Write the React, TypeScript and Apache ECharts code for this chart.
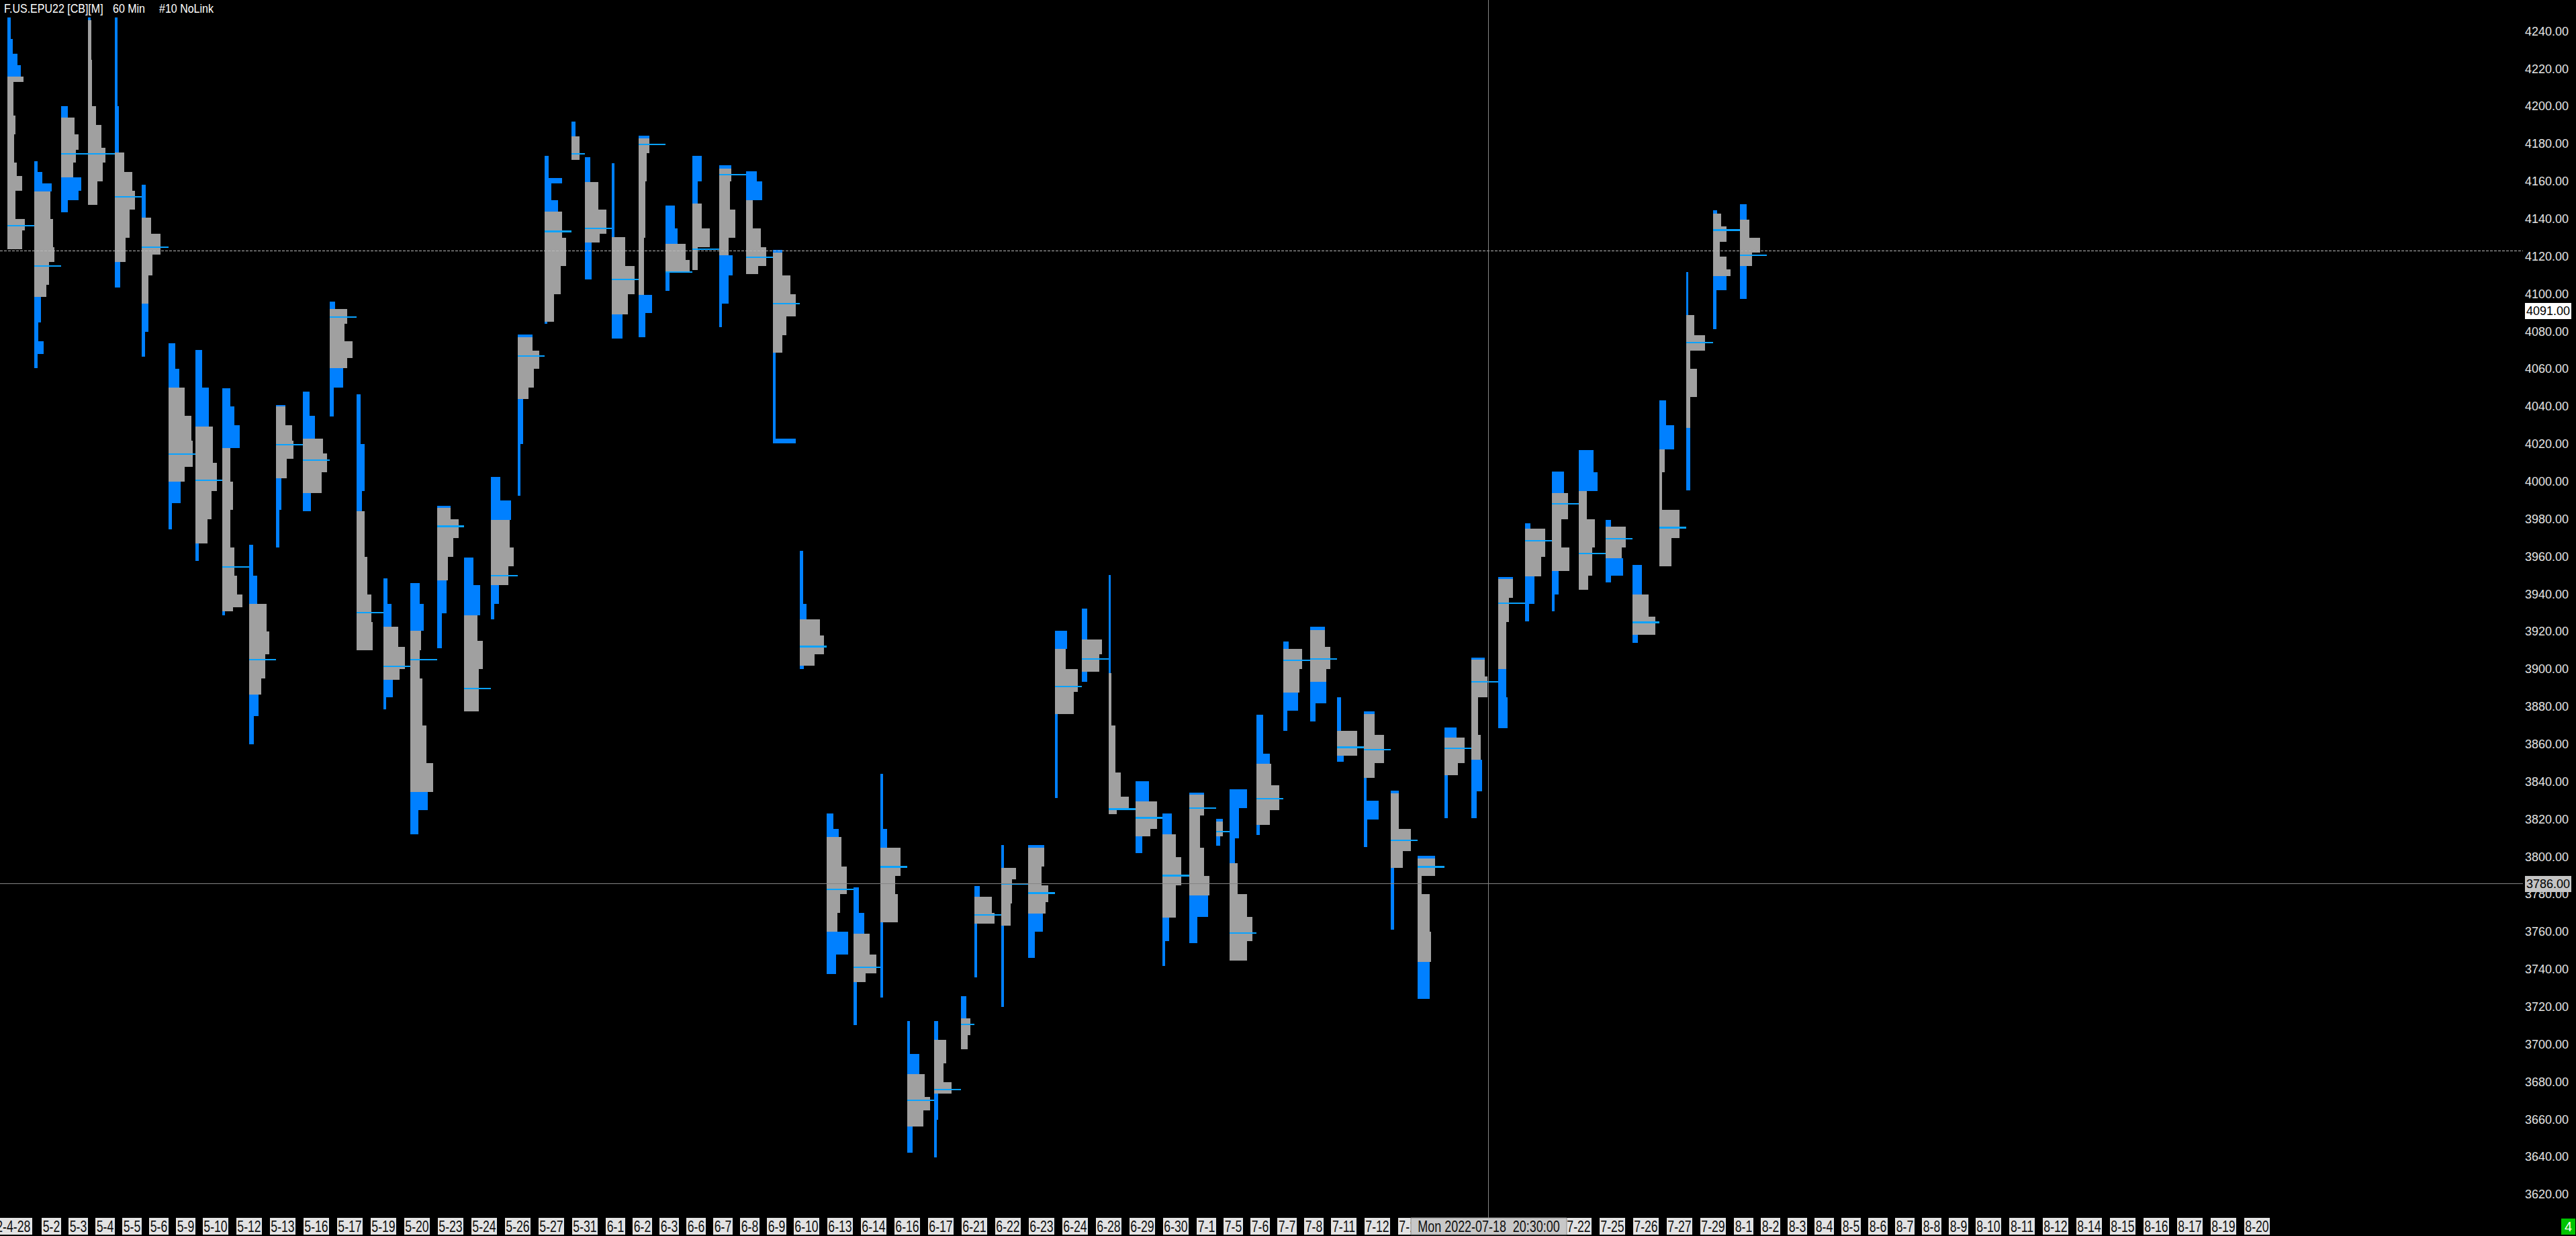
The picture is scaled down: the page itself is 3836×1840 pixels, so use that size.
import React, { useEffect, useRef } from "react";
import * as echarts from "echarts";

const CHART_W = 3836;
const CHART_H = 1840;

const titleParts = ["F.US.EPU22 [CB][M]", "60 Min", "#10 NoLink"];

const PRICE_MIN = 3600;
const PRICE_MAX = 4256.72;
const PRICE_STEP = 20;

// session left position, in session slots
const sessionSlot = [0,1,2,3,4,5,6,7,8,9,10,11,12,13,14,15,16,17,18,19,20,21,21.5,22.5,23.5,24.5,25.5,26.5,27.5,28.5,29.5,30.5,31.5,32.5,33.5,34.5,35.5,36,37,38,39,40,41,42,43,44,45,45.5,46.5,47.5,48.5,49.5,50.5,51.5,52.5,53.5,54.5,55.5,56.5,57.5,58.5,59.5,60.5,61.5,62.5,63.5,64.5];

const sessionPoc = [4136.5,4115,4174.6,4174.6,4151.7,4125,4014.8,4000.8,3954.6,3905.1,4019.7,4011.5,4087.8,3930.2,3901.6,3905.1,3976.2,3889.7,3949.9,4067,4133.4,4174.6,4135.1,4107.7,4179.7,4111.8,4123.8,4163.7,4119.7,4094.8,3912.1,3782.6,3741.2,3794.7,3670.3,3675.9,3710.8,3769,3785.5,3780.7,3890.7,3905.5,3825.5,3820.8,3790,3826,3813.4,3759.5,3831.1,3904.7,3905.5,3858.4,3857.2,3808.9,3794.7,3857.8,3893.4,3935.3,3968.5,3988.1,3961.8,3969.6,3925,3975.5,4074.1,4134.1,4120.6];

const sessionVaHigh = [4216,4154.6,4194,4246,4175.6,4140.6,4050.2,4029.2,4017.9,3934.9,4040,4023,4092,3984.4,3922.6,3920.5,3986,3928.8,3979.7,4077,4144.1,4184,4159.8,4130.4,4183,4126.9,4148.2,4167,4149.9,4122,3926.7,3810.5,3759.1,3804.8,3684.1,3702.6,3714,3778.7,3794.1,3805,3910.7,3915.8,3898,3829.5,3812,3833,3819,3796.6,3849.6,3911,3921,3867.1,3876,3834,3799,3863.6,3905,3948,3975,3994,3995,3976,3940,4017.3,4088.9,4143,4139.7];

const sessionVaLow = [4124,4098.5,4162.2,4147.4,4117,4095,4000,3966.9,3931,3886.6,4001.9,3994,4060.4,3910.3,3894.4,3834.6,3947.4,3877.4,3945,4044,4085.1,4171.5,4127.3,4089.2,4099.5,4111.4,4112.9,4120.7,4110.8,4068.7,3902,3760.2,3733.4,3765.3,3656.3,3673.8,3697.5,3764.3,3763.3,3769.8,3876.3,3898.5,3822.9,3811,3767.8,3779.3,3811,3744.7,3817.1,3887.6,3893.4,3854.1,3842,3794.1,3744.1,3843.4,3851.7,3900,3949.4,3952.5,3942.2,3959.3,3918.5,3955,4028.6,4109.4,4115];

// volume profile of each session: [price top, price bottom, volume]
const sessionProfile = [
  [[4247.5,4236,5],[4236,4228,8],[4228,4222,15],[4222,4216,20],[4216,4213,24],[4213,4195,9],[4195,4185,12],[4185,4170,10],[4170,4163,14],[4163,4155,22],[4155,4140,12],[4140,4134,26],[4134,4124,22]],
  [[4170.9,4165,5],[4165,4159,12],[4159,4154.6,26],[4154.6,4140,24],[4140,4125,28],[4125,4117,30],[4117,4105,22],[4105,4098.5,18],[4098.5,4085,10],[4085,4075,6],[4075,4068,14],[4068,4060.5,5]],
  [[4200.3,4194,10],[4194,4185,20],[4185,4177,26],[4177,4170,22],[4170,4162.2,18],[4162.2,4155,30],[4155,4150,26],[4150,4143.7,10]],
  [[4247.5,4246,4],[4246,4225,5],[4225,4200,6],[4200,4190,12],[4190,4178,20],[4178,4170,26],[4170,4160,22],[4160,4147.4,14]],
  [[4247.5,4200,4],[4200,4175.6,6],[4175.6,4165,14],[4165,4155,26],[4155,4145,30],[4145,4130,22],[4130,4117,16],[4117,4103.6,8]],
  [[4158.1,4140.6,6],[4140.6,4132,14],[4132,4121,28],[4121,4110,16],[4110,4095,10],[4095,4080,10],[4080,4066.6,5]],
  [[4073.8,4060,10],[4060,4050.2,16],[4050.2,4035,24],[4035,4022,34],[4022,4008,36],[4008,4000,24],[4000,3988.5,18],[3988.5,3974.7,5]],
  [[4070.3,4050,10],[4050,4029.2,20],[4029.2,4010,26],[4010,3995,32],[3995,3980,24],[3980,3966.9,18],[3966.9,3957.7,5]],
  [[4049.6,4040,12],[4040,4030,18],[4030,4017.9,26],[4017.9,4000,12],[4000,3985,16],[3985,3965,12],[3965,3950,18],[3950,3940,22],[3940,3933,30],[3933,3931,16],[3931,3928.8,4]],
  [[3966.5,3950,6],[3950,3934.9,12],[3934.9,3920,26],[3920,3908,30],[3908,3895,24],[3895,3886.6,18],[3886.6,3875,14],[3875,3859.9,7]],
  [[4040.9,4030,14],[4030,4022,24],[4022,4012,26],[4012,4001.9,16],[4001.9,3985,8],[3985,3964.8,5]],
  [[4048.1,4035,10],[4035,4023,18],[4023,4015,30],[4015,4005,36],[4005,3994,28],[3994,3984.4,12]],
  [[4096,4092,8],[4092,4084,26],[4084,4075,22],[4075,4066,34],[4066,4060.4,26],[4060.4,4050,20],[4050,4034.8,6]],
  [[4046.5,4020,6],[4020,3995,12],[3995,3984.4,8],[3984.4,3960,12],[3960,3940,16],[3940,3925,22],[3925,3910.3,24]],
  [[3948.3,3935,6],[3935,3922.6,12],[3922.6,3912,22],[3912,3900,32],[3900,3894.4,24],[3894.4,3885,14],[3885,3878.8,4]],
  [[3945.8,3935,14],[3935,3920.5,20],[3920.5,3910,16],[3910,3895,14],[3895,3870,18],[3870,3850,24],[3850,3834.6,34],[3834.6,3825,26],[3825,3812.2,12]],
  [[3987,3980,20],[3980,3970,32],[3970,3960,24],[3960,3947.4,16],[3947.4,3930,14],[3930,3911.3,7]],
  [[3959.7,3945,14],[3945,3928.8,24],[3928.8,3915,20],[3915,3900,28],[3900,3877.4,22]],
  [[4002.5,3990,14],[3990,3979.7,30],[3979.7,3965,28],[3965,3955,34],[3955,3945,26],[3945,3935,12],[3935,3926.7,5]],
  [[4078.3,4070,22],[4070,4060,32],[4060,4050,24],[4050,4044,16],[4044,4020,8],[4020,3992.6,4]],
  [[4173.5,4162,6],[4162,4159,26],[4159,4150,10],[4150,4144.1,20],[4144.1,4130,26],[4130,4115,32],[4115,4100,24],[4100,4085.1,14],[4085.1,4084,4]],
  [[4192,4184,6],[4184,4171.5,12]],
  [[4172.9,4159.8,8],[4159.8,4145,20],[4145,4132,32],[4132,4127.3,22],[4127.3,4107.7,10]],
  [[4169.8,4130.4,4],[4130.4,4115,20],[4115,4100,34],[4100,4089.2,24],[4089.2,4076.3,16]],
  [[4184.4,4175,16],[4175,4160,12],[4160,4130,10],[4130,4099.5,8],[4099.5,4090,20],[4090,4076.9,10]],
  [[4147.2,4135,14],[4135,4126.9,18],[4126.9,4118,30],[4118,4111.4,36],[4111.4,4101.6,6]],
  [[4173.5,4160,14],[4160,4148.2,8],[4148.2,4135,14],[4135,4125,26],[4125,4112.9,8]],
  [[4168.8,4160,18],[4160,4145,16],[4145,4130,24],[4130,4120.7,14],[4120.7,4110,20],[4110,4095,14],[4095,4082.5,4]],
  [[4165.3,4160,16],[4160,4149.9,24],[4149.9,4135,10],[4135,4125,22],[4125,4115,30],[4115,4110.8,18]],
  [[4123.6,4110,14],[4110,4100,26],[4100,4088,34],[4088,4078,20],[4078,4068.7,14],[4068.7,4023,4],[4023,4020.4,34]],
  [[3963.2,3935,5],[3935,3926.7,10],[3926.7,3918,30],[3918,3908,36],[3908,3902,22],[3902,3900,6]],
  [[3823.3,3815,10],[3815,3810.5,18],[3810.5,3795,22],[3795,3780,30],[3780,3770,20],[3770,3760.2,16],[3760.2,3748,32],[3748,3737.5,14]],
  [[3783.8,3770,8],[3770,3759.1,16],[3759.1,3748,24],[3748,3738,34],[3738,3733.4,18],[3733.4,3710.2,5]],
  [[3844.1,3815,4],[3815,3804.8,10],[3804.8,3790,30],[3790,3780,22],[3780,3765.3,26],[3765.3,3725.2,4]],
  [[3712.5,3695,4],[3695,3684.1,18],[3684.1,3672,26],[3672,3665,34],[3665,3656.3,24],[3656.3,3642.4,8]],
  [[3712.5,3702.6,6],[3702.6,3690,18],[3690,3680,14],[3680,3673.8,26],[3673.8,3660,6],[3660,3639.9,4]],
  [[3725.6,3714,8],[3714,3705,14],[3705,3697.5,10]],
  [[3784.4,3778.7,8],[3778.7,3770,26],[3770,3764.3,30],[3764.3,3735.9,4]],
  [[3806.4,3794.1,4],[3794.1,3788,22],[3788,3775,16],[3775,3763.3,14],[3763.3,3720,4]],
  [[3806.4,3795,24],[3795,3785,20],[3785,3776,30],[3776,3769.8,26],[3769.8,3760,22],[3760,3746.2,10]],
  [[3920.5,3910.7,18],[3910.7,3900,16],[3900,3888,34],[3888,3876.3,28],[3876.3,3831.5,4]],
  [[3932.3,3915.8,8],[3915.8,3908,30],[3908,3898.5,26],[3898.5,3893.2,8]],
  [[3950.3,3898,3],[3898,3870,4],[3870,3845,10],[3845,3832,18],[3832,3826,30],[3826,3822.9,12]],
  [[3840.3,3829.5,20],[3829.5,3815,32],[3815,3811,22],[3811,3801.9,10]],
  [[3823.3,3812,14],[3812,3800,20],[3800,3785,28],[3785,3767.8,20],[3767.8,3755,10],[3755,3741.7,4]],
  [[3834.2,3822,22],[3822,3805,16],[3805,3790,22],[3790,3779.3,30],[3779.3,3768,28],[3768,3754,12]],
  [[3820.2,3811,10],[3811,3805.8,6]],
  [[3836.2,3826,26],[3826,3810,14],[3810,3796.6,8],[3796.6,3780,12],[3780,3768,26],[3768,3755,34],[3755,3744.7,26]],
  [[3875.7,3855,10],[3855,3849.6,20],[3849.6,3838,22],[3838,3825,34],[3825,3817.1,20],[3817.1,3811.6,5]],
  [[3914.8,3911,8],[3911,3900,28],[3900,3887.6,24],[3887.6,3878,22],[3878,3867.1,6]],
  [[3922.6,3912,22],[3912,3900,30],[3900,3893.4,24],[3893.4,3882,24],[3882,3872.2,8]],
  [[3885,3867.1,6],[3867.1,3854.1,30],[3854.1,3850.6,10]],
  [[3877.4,3865,16],[3865,3850,30],[3850,3842,16],[3842,3830,4],[3830,3820,22],[3820,3805.4,5]],
  [[3835.2,3815,12],[3815,3803,30],[3803,3794.1,18],[3794.1,3761.2,5]],
  [[3800.7,3790,26],[3790,3780,6],[3780,3760,18],[3760,3744.1,20],[3744.1,3724.2,18]],
  [[3869.1,3863.6,18],[3863.6,3850,30],[3850,3843.4,20],[3843.4,3820.8,5]],
  [[3906.1,3896,20],[3896,3885,24],[3885,3865,10],[3865,3851.7,14],[3851.7,3835,16],[3835,3820.8,8]],
  [[3949,3938,22],[3938,3925,16],[3925,3900,12],[3900,3885,12],[3885,3868.5,14]],
  [[3977.8,3975,8],[3975,3960,30],[3960,3949.4,24],[3949.4,3935,14],[3935,3925.7,6]],
  [[4005.5,3994,18],[3994,3980,24],[3980,3965,14],[3965,3952.5,26],[3952.5,3940,10],[3940,3930.8,4]],
  [[4016.9,4005,22],[4005,3995,28],[3995,3980,12],[3980,3965,24],[3965,3950,20],[3950,3942.2,14]],
  [[3979.7,3976,8],[3976,3965,30],[3965,3959.3,24],[3959.3,3950,26],[3950,3946.4,8]],
  [[3955.6,3940,14],[3940,3928,24],[3928,3918.5,34],[3918.5,3914,8]],
  [[4043.4,4030,10],[4030,4017.3,22],[4017.3,4005,8],[4005,3985,4],[3985,3970,30],[3970,3955,18]],
  [[4111.8,4088.9,3],[4088.9,4078,12],[4078,4070,28],[4070,4060,6],[4060,4045,16],[4045,4028.6,6],[4028.6,3995.3,6]],
  [[4144.7,4143,6],[4143,4136,12],[4136,4128,20],[4128,4120,10],[4120,4113,20],[4113,4109.4,26],[4109.4,4102,20],[4102,4081.3,5]],
  [[4148,4139.7,10],[4139.7,4130,14],[4130,4122,30],[4122,4115,18],[4115,4097.5,10]],
];

const dateLabels = ["2022-4-28","5-2","5-3","5-4","5-5","5-6","5-9","5-10","5-12","5-13","5-16","5-17","5-19","5-20","5-23","5-24","5-26","5-27","5-31","6-1","6-2","6-3","6-6","6-7","6-8","6-9","6-10","6-13","6-14","6-16","6-17","6-21","6-22","6-23","6-24","6-28","6-29","6-30","7-1","7-5","7-6","7-7","7-8","7-11","7-12","7-13","7-22","7-25","7-26","7-27","7-29","8-1","8-2","8-3","8-4","8-5","8-6","8-7","8-8","8-9","8-10","8-11","8-12","8-14","8-15","8-16","8-17","8-19","8-20"];
const dateLabelSlot = [-1.225,1.275,2.275,3.275,4.275,5.275,6.275,7.275,8.525,9.775,11.025,12.275,13.525,14.775,16.025,17.275,18.525,19.775,21.025,22.275,23.275,24.275,25.275,26.275,27.275,28.275,29.275,30.525,31.775,33.025,34.275,35.525,36.775,38.025,39.275,40.525,41.775,43.025,44.275,45.275,46.275,47.275,48.275,49.275,50.525,51.775,58.025,59.275,60.525,61.775,63.025,64.275,65.275,66.275,67.275,68.275,69.275,70.275,71.275,72.275,73.275,74.525,75.775,77.025,78.275,79.525,80.775,82.025,83.275];

const lastPrice = 4091;
const cursorPrice = 3786;
const cursorSlot = 55.125;
const cursorLabel = "Mon 2022-07-18  20:30:00";
const referencePrice = 4123;
const chartNumber = "4";

// layout / style
const GRID_LEFT = 0;
const GRID_WIDTH = 3757;
const X_MIN = -0.275;
const X_MAX = 93.65;
const GRID_TOP = 0;
const GRID_HEIGHT = 1834.2;
const VOL_PER_SLOT = 40;
const POC_HALF = 0.4;
const GRAY = "#a0a0a0";
const BLUE = "#0080ff";
const POC_COLOR = "#0aa2ff";
const FONT = '"Liberation Sans", Arial, sans-serif';
const LABEL_TOP = 1813;
const LABEL_H = 25;

export default function App() {
  const ref = useRef<HTMLDivElement>(null);

  useEffect(() => {
    const el = ref.current as HTMLDivElement;
    const chart = echarts.init(el, null, { renderer: "svg", width: CHART_W, height: CHART_H });

    const barData: number[][] = [];
    sessionProfile.forEach((segs, i) => {
      const hi = sessionVaHigh[i];
      const lo = sessionVaLow[i];
      const slot = sessionSlot[i];
      segs.forEach(([t, b, w]) => {
        const push = (tt: number, bb: number, va: number) => {
          if (tt - bb > 1e-6) barData.push([slot, tt, bb, w, va]);
        };
        push(t, Math.max(b, hi), 0);
        push(Math.min(t, hi), Math.max(b, lo), 1);
        push(Math.min(t, lo), b, 0);
      });
    });

    const pocData = sessionSlot.map((s, i) => {
      const next = i + 1 < sessionSlot.length ? sessionSlot[i + 1] : s + 1;
      const span = Math.min(1, next - s);
      return [s, sessionPoc[i], span];
    });

    const labelData = dateLabelSlot.map((s, i) => [s, i]);

    const option: any = {
      animation: false,
      backgroundColor: "#000000",
      grid: { left: GRID_LEFT, width: GRID_WIDTH, top: GRID_TOP, height: GRID_HEIGHT, containLabel: false },
      xAxis: { type: "value", min: X_MIN, max: X_MAX, show: false },
      yAxis: {
        type: "value",
        position: "right",
        min: PRICE_MIN,
        max: PRICE_MAX,
        interval: PRICE_STEP,
        axisLine: { show: false },
        axisTick: { show: false },
        splitLine: { show: false },
        axisLabel: {
          showMinLabel: false,
          showMaxLabel: false,
          formatter: (v: number) => (v % PRICE_STEP === 0 ? v.toFixed(2) : ""),
          color: "#e4e4e4",
          fontSize: 18,
          fontFamily: FONT,
          align: "right",
          margin: 68,
        },
      },
      series: [
        {
          type: "custom",
          name: "profile",
          data: barData,
          encode: { x: 0, y: 1 },
          z: 2,
          renderItem: (params: any, api: any) => {
            const s = api.value(0), t = api.value(1), b = api.value(2), w = api.value(3), va = api.value(4);
            const p1 = api.coord([s, t]);
            const p2 = api.coord([s + w / VOL_PER_SLOT, b]);
            const x = Math.round(p1[0]);
            const y = Math.round(p1[1]);
            const x2 = Math.round(p2[0]);
            const y2 = Math.round(p2[1]);
            return {
              type: "rect",
              shape: { x, y, width: Math.max(1, x2 - x), height: Math.max(1, y2 - y) },
              style: { fill: va ? GRAY : BLUE },
            };
          },
        },
        {
          type: "custom",
          name: "poc",
          data: pocData,
          encode: { x: 0, y: 1 },
          z: 3,
          renderItem: (params: any, api: any) => {
            const s = api.value(0), p = api.value(1), span = api.value(2);
            const p1 = api.coord([s, p + POC_HALF]);
            const p2 = api.coord([s + span, p - POC_HALF]);
            const x = Math.round(p1[0]);
            const y = Math.round(p1[1]);
            return {
              type: "rect",
              shape: { x, y, width: Math.round(p2[0]) - x, height: Math.max(2, Math.round(p2[1]) - y) },
              style: { fill: POC_COLOR },
            };
          },
        },
        {
          type: "custom",
          name: "dates",
          data: labelData,
          encode: { x: 0 },
          clip: false,
          z: 10,
          renderItem: (params: any, api: any) => {
            const s = api.value(0);
            const txt = dateLabels[params.dataIndex];
            const p = api.coord([s, PRICE_MIN]);
            const x = Math.round(p[0]);
            const w = Math.round(txt.length * 9.6);
            return {
              type: "group",
              children: [
                { type: "rect", shape: { x, y: LABEL_TOP, width: w, height: LABEL_H }, style: { fill: "#e3e3e3" } },
                {
                  type: "text",
                  x: x + w / 2,
                  y: LABEL_TOP + LABEL_H / 2 + 0.5,
                  scaleX: 0.77,
                  style: { text: txt, fill: "#101010", font: `23px ${FONT}`, align: "center", verticalAlign: "middle" },
                },
              ],
            };
          },
        },
      ],
    };

    chart.setOption(option);

    const yPx = (v: number) => chart.convertToPixel({ yAxisIndex: 0 }, v) as number;
    const xPx = (v: number) => chart.convertToPixel({ xAxisIndex: 0 }, v) as number;
    const yLast = yPx(lastPrice);
    const yCursor = Math.round(yPx(cursorPrice)) + 0.5;
    const yRef = Math.round(yPx(referencePrice)) + 0.5;
    const xCursor = Math.round(xPx(cursorSlot)) + 0.5;
    const xRight = GRID_LEFT + GRID_WIDTH;

    const graphic: any[] = [
      { type: "text", x: 6, y: 13.5, scaleX: 0.89, z: 100, style: { text: titleParts[0], fill: "#ffffff", font: `18px ${FONT}`, verticalAlign: "middle" } },
      { type: "text", x: 168, y: 13.5, scaleX: 0.89, z: 100, style: { text: titleParts[1], fill: "#ffffff", font: `18px ${FONT}`, verticalAlign: "middle" } },
      { type: "text", x: 237, y: 13.5, scaleX: 0.89, z: 100, style: { text: titleParts[2], fill: "#ffffff", font: `18px ${FONT}`, verticalAlign: "middle" } },
      { type: "line", z: 90, shape: { x1: 0, y1: yRef, x2: xRight, y2: yRef }, style: { stroke: "#b8b8b8", lineWidth: 1, lineDash: [4, 2] } },
      { type: "line", z: 90, shape: { x1: 0, y1: yCursor, x2: xRight, y2: yCursor }, style: { stroke: "#858585", lineWidth: 1 } },
      { type: "line", z: 90, shape: { x1: xCursor, y1: 0, x2: xCursor, y2: LABEL_TOP }, style: { stroke: "#858585", lineWidth: 1 } },
      { type: "rect", z: 100, shape: { x: 3760, y: Math.round(yLast) - 12, width: 69, height: 24 }, style: { fill: "#ffffff" } },
      { type: "text", z: 101, x: 3794.5, y: Math.round(yLast), style: { text: lastPrice.toFixed(2), fill: "#000000", font: `18px ${FONT}`, align: "center", verticalAlign: "middle" } },
      { type: "rect", z: 100, shape: { x: 3760, y: Math.round(yCursor) - 12, width: 69, height: 24 }, style: { fill: "#c4c4c4" } },
      { type: "text", z: 101, x: 3794.5, y: Math.round(yCursor), style: { text: cursorPrice.toFixed(2), fill: "#000000", font: `18px ${FONT}`, align: "center", verticalAlign: "middle" } },
      { type: "rect", z: 100, shape: { x: Math.round(xCursor) - 116, y: LABEL_TOP, width: 232, height: LABEL_H }, style: { fill: "#c8c8c8", stroke: "#8a8a8a", lineWidth: 1 } },
      { type: "text", z: 101, x: Math.round(xCursor), y: LABEL_TOP + LABEL_H / 2 + 0.5, scaleX: 0.78, style: { text: cursorLabel, fill: "#101010", font: `23px ${FONT}`, align: "center", verticalAlign: "middle" } },
      { type: "rect", z: 100, shape: { x: 3814, y: 1814, width: 21, height: 24 }, style: { fill: "#00c400" } },
      { type: "text", z: 101, x: 3824.5, y: 1826, style: { text: chartNumber, fill: "#ffffff", font: `20px ${FONT}`, align: "center", verticalAlign: "middle" } },
    ];
    chart.setOption({ graphic });

    return () => chart.dispose();
  }, []);

  return (
    <div
      ref={ref}
      style={{ position: "fixed", left: 0, top: 0, width: CHART_W, height: CHART_H, background: "#000000" }}
    />
  );
}
